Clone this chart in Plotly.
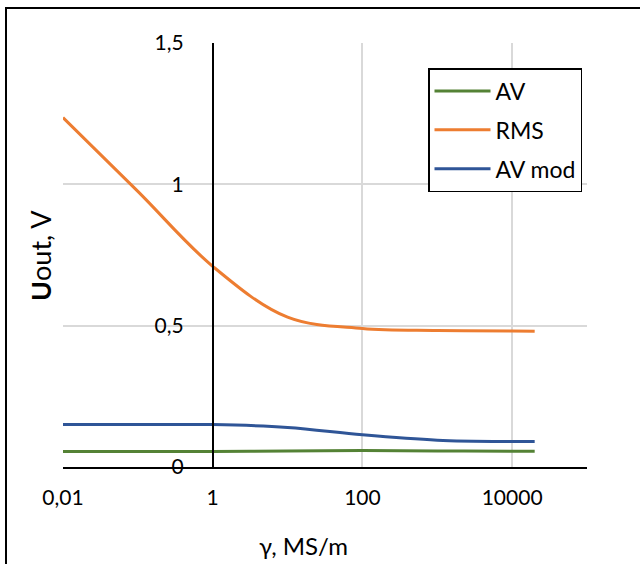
import plotly.graph_objects as go

# Data
gamma = [0.01, 0.1, 1, 10, 100, 1000, 10000, 20000]
av = [0.055, 0.055, 0.055, 0.057, 0.058, 0.057, 0.056, 0.056]
rms = [1.236, 0.975, 0.71, 0.53, 0.49, 0.483, 0.481, 0.48]
av_mod = [0.15, 0.15, 0.15, 0.14, 0.114, 0.095, 0.09, 0.09]
x_tickvals = [0.01, 1, 100, 10000]
x_ticktext = ["0,01", "1", "100", "10000"]
y_tickvals = [0, 0.5, 1, 1.5]
y_ticktext = ["0", "0,5", "1", "1,5"]

W, H = 640, 564
L, R, T, B = 63, 53, 43, 97
PW, PH = W - L - R, H - T - B

def px(xp):
    return (xp - L) / PW

def py(yp):
    return (H - B - yp) / PH

FONT = "Lato"

fig = go.Figure()
series = [("AV", av, "#548235"), ("RMS", rms, "#ED7D31"), ("AV mod", av_mod, "#2F5597")]
for name, vals, col in series:
    fig.add_trace(go.Scatter(x=gamma, y=vals, name=name, mode="lines",
                             line=dict(color=col, width=3, shape="spline"),
                             legendgroup=name))

fig.update_layout(
    width=W, height=H,
    margin=dict(l=L, r=R, t=T, b=B),
    paper_bgcolor="white", plot_bgcolor="white",
    font=dict(family=FONT, size=21, color="black"),
    xaxis=dict(type="log", range=[-2, 5], tickvals=x_tickvals, ticktext=x_ticktext,
               showgrid=True, gridcolor="#d9d9d9", gridwidth=1.5,
               showline=True, linecolor="black", linewidth=1.5,
               zeroline=False, ticks="", ticklabelstandoff=11),
    yaxis=dict(range=[0, 1.5], tickvals=y_tickvals, ticktext=y_ticktext,
               showgrid=True, gridcolor="#d9d9d9", gridwidth=1.5,
               showline=True, linecolor="black", linewidth=1.5,
               zeroline=False, ticks="", anchor="free", position=px(212.6),
               ticklabelstandoff=24),
    legend=dict(x=px(428), y=py(68), xanchor="left", yanchor="top",
                bgcolor="white", bordercolor="black", borderwidth=1.5,
                font=dict(family=FONT, size=23), tracegroupgap=6, itemwidth=56,
                entrywidth=170, entrywidthmode="pixels"),
    showlegend=True,
)

fig.add_annotation(text="γ, MS/m", x=px(303), y=py(545), xref="paper", yref="paper",
                   showarrow=False, font=dict(family=FONT, size=24), xanchor="center", yanchor="middle")
fig.add_annotation(text="<b>U</b>out, V", x=px(40), y=py(256), xref="paper", yref="paper",
                   showarrow=False, textangle=-90, font=dict(family=FONT, size=27),
                   xanchor="center", yanchor="middle")
fig.add_shape(type="rect", xref="paper", yref="paper",
              x0=px(6), y0=py(600), x1=px(680), y1=py(8),
              line=dict(color="black", width=2), layer="above")

fig.write_html("out.html")
